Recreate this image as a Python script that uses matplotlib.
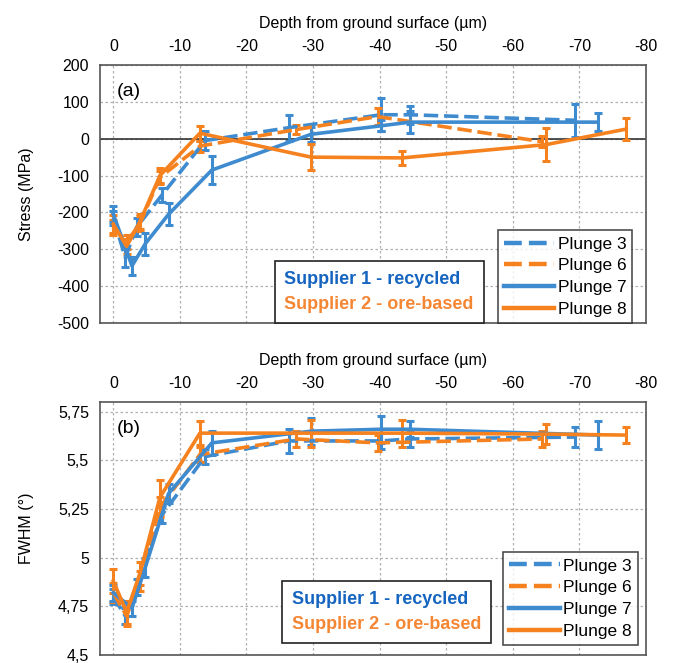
import matplotlib
matplotlib.use("Agg")
import matplotlib.pyplot as plt
import matplotlib.ticker as mticker
from matplotlib.lines import Line2D
from matplotlib.offsetbox import AnchoredOffsetbox, TextArea, VPacker

plt.rcParams["font.family"] = ["Liberation Sans", "DejaVu Sans"]

BLUE = "#3F8BD0"
ORANGE = "#F5821F"
TXT_BLUE = "#1565C0"
TXT_ORANGE = "#F58634"

# depth from ground surface (um), per plunge
depth_p3 = [0, -1.8, -3.5, -7.3, -13.8, -26.4, -40.2, -44.5, -69.4]
depth_p6 = [0, -2, -4, -7, -13, -27.5, -39.7, -64.4]
depth_p7 = [0, -2.8, -4.8, -8.3, -14.8, -29.7, -40.2, -44.5, -72.8]
depth_p8 = [0, -2, -4, -7, -13, -29.7, -43.4, -65, -77]

# residual stress (MPa)
stress_p3 = [-215, -322, -240, -153, -5, 30, 65, 65, 50]
stress_p6 = [-240, -280, -230, -105, -20, 25, 60, -8]
stress_p7 = [-205, -345, -285, -205, -85, 12, 35, 45, 45]
stress_p8 = [-232, -292, -225, -100, 15, -50, -52, -16, 26]
stress_err_p3 = [20, 25, 25, 18, 25, 35, 45, 25, 45]
stress_err_p6 = [20, 20, 20, 18, 15, 12, 22, 15]
stress_err_p7 = [22, 25, 30, 30, 38, 20, 15, 30, 25]
stress_err_p8 = [25, 20, 20, 20, 20, 35, 20, 45, 30]

# FWHM (deg)
fwhm_p3 = [4.80, 4.70, 4.85, 5.22, 5.52, 5.60, 5.60, 5.61, 5.62]
fwhm_p6 = [4.82, 4.70, 4.88, 5.26, 5.53, 5.61, 5.59, 5.61]
fwhm_p7 = [4.82, 4.74, 4.95, 5.33, 5.59, 5.65, 5.66, 5.66, 5.63]
fwhm_p8 = [4.88, 4.72, 4.92, 5.31, 5.64, 5.64, 5.64, 5.635, 5.63]
fwhm_err_p3 = [0.04, 0.04, 0.04, 0.04, 0.04, 0.06, 0.04, 0.04, 0.05]
fwhm_err_p6 = [0.05, 0.05, 0.05, 0.05, 0.04, 0.04, 0.04, 0.04]
fwhm_err_p7 = [0.04, 0.04, 0.05, 0.05, 0.06, 0.07, 0.07, 0.04, 0.07]
fwhm_err_p8 = [0.06, 0.06, 0.06, 0.09, 0.06, 0.07, 0.07, 0.05, 0.04]

labels = ["Plunge 3", "Plunge 6", "Plunge 7", "Plunge 8"]
colours = [BLUE, ORANGE, BLUE, ORANGE]
styles = [(0, (4, 1.6)), (0, (4, 1.6)), "-", "-"]


def draw_panel(ax, depths, values, errors, ylim, yticks, fmt, tag, leg_anchor, sup_anchor):
    for d, v, e, c, ls in zip(depths, values, errors, colours, styles):
        _, _, bars = ax.errorbar(
            d, v, yerr=e, color=c, lw=2.6, ls=ls, capsize=3,
            capthick=2.2, elinewidth=2.2, zorder=3,
        )
        for b in bars:
            b.set_linestyle("-")
    ax.set_xlim(2, -80)
    ax.set_ylim(*ylim)
    ax.set_xticks(range(0, -81, -10))
    ax.xaxis.set_major_formatter(mticker.FuncFormatter(lambda v, _: f"{v:.0f}"))
    ax.set_yticks(yticks)
    ax.yaxis.set_major_formatter(mticker.FuncFormatter(fmt))
    ax.xaxis.tick_top()
    ax.xaxis.set_label_position("top")
    ax.set_xlabel("Depth from ground surface (µm)", fontsize=11.5, labelpad=8)
    ax.tick_params(length=0, labelsize=11.5, pad=8)
    ax.grid(True, color="#b0b0b0", ls=(0, (2, 2)), lw=0.9)
    ax.set_axisbelow(True)
    for sp in ax.spines.values():
        sp.set_color("#555555")
        sp.set_linewidth(1.2)
    ax.text(0.03, 0.93, tag, transform=ax.transAxes, fontsize=14, va="top")

    handles = [Line2D([], [], color=c, ls=ls, lw=3.2) for c, ls in zip(colours, styles)]
    leg = ax.legend(
        handles, labels,
        loc="lower right", bbox_to_anchor=leg_anchor, fontsize=12.5,
        frameon=True, fancybox=False, edgecolor="#222222", borderaxespad=0,
        handlelength=2.9, handletextpad=0.2, labelspacing=0.38,
        borderpad=0.35,
    )
    leg.get_frame().set_linewidth(1.2)

    t1 = TextArea("Supplier 1 - recycled", textprops=dict(
        color=TXT_BLUE, fontsize=13, fontweight="bold"))
    t2 = TextArea("Supplier 2 - ore-based", textprops=dict(
        color=TXT_ORANGE, fontsize=13, fontweight="bold"))
    box = VPacker(children=[t1, t2], align="left", pad=0, sep=6)
    anch = AnchoredOffsetbox(
        loc="lower left", child=box, pad=0.7, frameon=True,
        bbox_to_anchor=sup_anchor, bbox_transform=ax.transAxes,
        borderpad=0,
    )
    anch.patch.set_edgecolor("#222222")
    anch.patch.set_linewidth(1.2)
    anch.patch.set_boxstyle("square", pad=0)
    ax.add_artist(anch)
    ax.yaxis.set_label_coords(-0.12, 0.5)


W, H = 673, 663
fig = plt.figure(figsize=(W / 100, H / 100), dpi=100)
ax1 = fig.add_axes([100 / W, 1 - 323 / H, 546 / W, 258 / H])
ax2 = fig.add_axes([100 / W, 1 - 655 / H, 546 / W, 253 / H])

draw_panel(
    ax1,
    [depth_p3, depth_p6, depth_p7, depth_p8],
    [stress_p3, stress_p6, stress_p7, stress_p8],
    [stress_err_p3, stress_err_p6, stress_err_p7, stress_err_p8],
    (-500, 200), range(-500, 201, 100),
    lambda v, _: f"{v:.0f}", "(a)", (0.975, 0.0), (0.32, 0.0),
)
ax1.axhline(0, color="#333333", lw=1.2, zorder=2)
ax1.set_ylabel("Stress (MPa)", fontsize=11.5)

draw_panel(
    ax2,
    [depth_p3, depth_p6, depth_p7, depth_p8],
    [fwhm_p3, fwhm_p6, fwhm_p7, fwhm_p8],
    [fwhm_err_p3, fwhm_err_p6, fwhm_err_p7, fwhm_err_p8],
    (4.5, 5.8), [4.5, 4.75, 5.0, 5.25, 5.5, 5.75],
    lambda v, _: f"{v:g}".replace(".", ","), "(b)", (0.985, 0.04), (0.333, 0.047),
)
ax2.set_ylabel("FWHM (°)", fontsize=11.5)

fig.savefig("out.png", dpi=100)
plt.close(fig)
